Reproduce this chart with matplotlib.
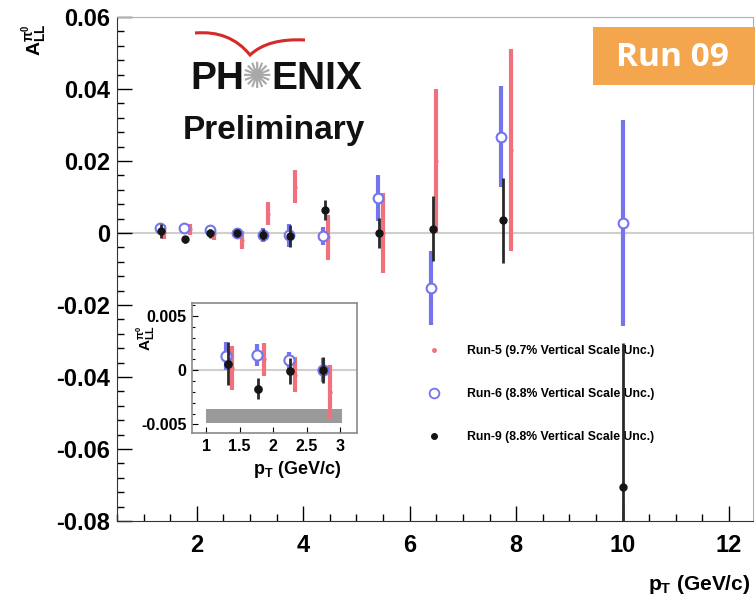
import matplotlib
matplotlib.use("Agg")
import matplotlib.pyplot as plt
from matplotlib.lines import Line2D
from matplotlib.path import Path
from matplotlib.patches import PathPatch, Rectangle
from matplotlib.ticker import MultipleLocator

plt.rcParams['font.family'] = ['Liberation Sans', 'DejaVu Sans']
plt.rcParams['mathtext.fontset'] = 'custom'
plt.rcParams['mathtext.rm'] = 'Liberation Sans:bold'
plt.rcParams['mathtext.it'] = 'Liberation Sans:bold'
plt.rcParams['mathtext.bf'] = 'Liberation Sans:bold'

# ---------------- data ----------------
run5_pt = [1.38, 1.87, 2.33, 2.85, 3.33, 3.85, 4.47, 5.50, 6.50, 7.90]
run5_all = [0.0002, 0.0010, -0.0004, -0.0020, 0.0054, 0.0129, -0.0012, 0.0000, 0.0200, 0.0230]
run5_err = [0.0020, 0.0015, 0.0016, 0.0025, 0.0032, 0.0046, 0.0062, 0.0110, 0.0200, 0.0280]

run6_pt = [1.30, 1.76, 2.24, 2.75, 3.25, 3.73, 4.37, 5.40, 6.40, 7.72, 10.0]
run6_all = [0.0013, 0.0014, 0.0009, 0.0000, -0.0005, -0.0006, -0.0008, 0.0097, -0.0153, 0.0267, 0.0028]
run6_err = [0.0013, 0.0010, 0.0008, 0.0011, 0.0020, 0.0032, 0.0025, 0.0063, 0.0103, 0.0140, 0.0286]

run9_pt = [1.32, 1.78, 2.25, 2.75, 3.25, 3.75, 4.40, 5.42, 6.43, 7.75, 10.0]
run9_all = [0.0006, -0.0017, -0.0001, 0.0000, -0.0005, -0.0008, 0.0064, 0.0000, 0.0012, 0.0036, -0.0705]
run9_err = [0.0020, 0.0010, 0.0012, 0.0012, 0.0015, 0.0030, 0.0028, 0.0043, 0.0090, 0.0118, 0.0400]

# inset shows the four lowest pT bins
n_inset = 4

band_pt = [1.0, 3.03]
band_lo = [-0.0049, -0.0049]
band_hi = [-0.0036, -0.0036]

labels = ["Run-5 (9.7% Vertical Scale Unc.)",
          "Run-6 (8.8% Vertical Scale Unc.)",
          "Run-9 (8.8% Vertical Scale Unc.)"]

RED = '#f0707c'
BLUE = '#7474ee'
BLACK = '#151515'

W, H = 755, 601
fig = plt.figure(figsize=(W / 100, H / 100), dpi=100)


def fx(px):
    return px / W


def fy(py):
    return 1 - py / H


ax = fig.add_axes([fx(117), fy(521), fx(753) - fx(117), fy(17) - fy(521)])


def draw(a, n=None, ms_scale=1.0):
    s = slice(0, n)
    a.axhline(0, color='#cfcfcf', lw=1.5, zorder=1)
    a.errorbar(run5_pt[s], run5_all[s], yerr=run5_err[s], fmt='.', color=RED, ms=4 * ms_scale,
               ecolor=RED, elinewidth=3, capsize=0, zorder=2)
    a.errorbar(run6_pt[s], run6_all[s], yerr=run6_err[s], fmt='o', mfc='white', mec=BLUE, mew=1.5,
               ms=7 * ms_scale, ecolor=BLUE, elinewidth=3, capsize=0, zorder=3)
    a.errorbar(run9_pt[s], run9_all[s], yerr=run9_err[s], fmt='o', color=BLACK, ms=5 * ms_scale,
               ecolor='#2a2a2a', elinewidth=2, capsize=0, zorder=4)


draw(ax)
ax.set_xlim(0.5, 12.45)
ax.set_ylim(-0.08, 0.06)
ax.set_yticks([-0.08, -0.06, -0.04, -0.02, 0, 0.02, 0.04, 0.06])
ax.set_yticklabels(['-0.08', '-0.06', '-0.04', '-0.02', '0', '0.02', '0.04', '0.06'])
ax.set_xticks([2, 4, 6, 8, 10, 12])
ax.xaxis.set_minor_locator(MultipleLocator(0.5))
ax.yaxis.set_minor_locator(MultipleLocator(0.004))
ax.tick_params(which='major', direction='in', length=11, width=1, labelsize=17, pad=5)
ax.tick_params(which='minor', direction='in', length=5, width=1)
ax.tick_params(axis='x', which='major', pad=9)
for lab in ax.get_xticklabels() + ax.get_yticklabels():
    lab.set_fontweight('bold')
ax.spines['top'].set_color('#b0b0b0')
ax.spines['right'].set_color('#b0b0b0')
ax.spines['left'].set_color('#333333')
ax.spines['bottom'].set_color('#333333')

# axis titles
fig.text(fx(35), fy(40), r'$\mathbf{A_{LL}^{\pi^{0}}}$', rotation=90, fontsize=14,
         ha='center', va='center')
fig.text(fx(750), fy(585), r'$\mathbf{p_{T}}$' + ' (GeV/c)', fontsize=15, fontweight='bold',
         ha='right', va='center')

# legend (drawn beneath the data lines, as in the original)
handles = [Line2D([], [], ls='', marker='.', color=RED, ms=5),
           Line2D([], [], ls='', marker='o', mfc='white', mec=BLUE, mew=1.3, ms=7),
           Line2D([], [], ls='', marker='o', color=BLACK, ms=4)]
leg = ax.legend(handles, labels, loc='upper left',
                bbox_to_anchor=(fx(428), fy(345)), bbox_transform=fig.transFigure,
                frameon=False, labelspacing=2.55, handlelength=1.0,
                handletextpad=2.2, borderpad=0, borderaxespad=0,
                prop={'weight': 'bold', 'size': 8.8})
leg.set_zorder(1.5)

# inset
ax2 = fig.add_axes([fx(192), fy(433), fx(357) - fx(192), fy(303) - fy(433)])
ax2.set_facecolor('white')
ax2.fill_between(band_pt, band_lo, band_hi, color='#9a9a9a', lw=0, zorder=1)
draw(ax2, n_inset, 1.05)
ax2.set_xlim(0.79, 3.25)
ax2.set_ylim(-0.0058, 0.0062)
ax2.set_xticks([1, 1.5, 2, 2.5, 3])
ax2.set_xticklabels(['1', '1.5', '2', '2.5', '3'])
ax2.set_yticks([-0.005, 0, 0.005])
ax2.set_yticklabels(['-0.005', '0', '0.005'])
ax2.yaxis.set_minor_locator(MultipleLocator(0.001))
ax2.tick_params(which='major', direction='in', length=4, width=0.8, labelsize=11.5, pad=4)
ax2.tick_params(which='minor', direction='in', length=2, width=0.8)
for lab in ax2.get_xticklabels() + ax2.get_yticklabels():
    lab.set_fontweight('bold')
for s in ax2.spines.values():
    s.set_color('#8a8a8a')
    s.set_linewidth(1.2)
fig.text(fx(146), fy(338), r'$\mathbf{A_{LL}^{\pi^{0}}}$', rotation=90, fontsize=11,
         ha='center', va='center')
fig.text(fx(253), fy(470), r'$\mathbf{p_{T}}$' + ' (GeV/c)', fontsize=13, fontweight='bold',
         ha='left', va='center')

# Run 09 badge
fig.patches.append(Rectangle((fx(593), fy(85)), fx(755) - fx(593), fy(27) - fy(85),
                             transform=fig.transFigure, facecolor='#f4a64e',
                             edgecolor='none', zorder=5))
fig.text(fx(672), fy(57), 'Run 09', fontsize=24, fontweight='bold', color='white',
         family=['Open Sans', 'DejaVu Sans'], ha='center', va='center', zorder=6)

# PHENIX logo
fig.text(fx(244), fy(79), 'PH', fontsize=28, fontweight='bold', color='#111111',
         ha='right', va='center')
fig.text(fx(271), fy(79), 'ENIX', fontsize=28, fontweight='bold', color='#111111',
         ha='left', va='center')
fig.text(fx(257), fy(78), '\u273a', fontsize=26, color='#a8a8a8',
         family=['DejaVu Sans'], ha='center', va='center')
fig.text(fx(183), fy(130), 'Preliminary', fontsize=24, fontweight='bold', color='#111111',
         ha='left', va='center')
verts = [(fx(195), fy(33)), (fx(230), fy(30)), (fx(250), fy(55)),
         (fx(268), fy(38)), (fx(305), fy(40))]
codes = [Path.MOVETO, Path.CURVE3, Path.CURVE3, Path.CURVE3, Path.CURVE3]
fig.patches.append(PathPatch(Path(verts, codes), transform=fig.transFigure,
                             facecolor='none', edgecolor='#d42a2a', lw=2.2))

fig.savefig('out.png', dpi=100)
